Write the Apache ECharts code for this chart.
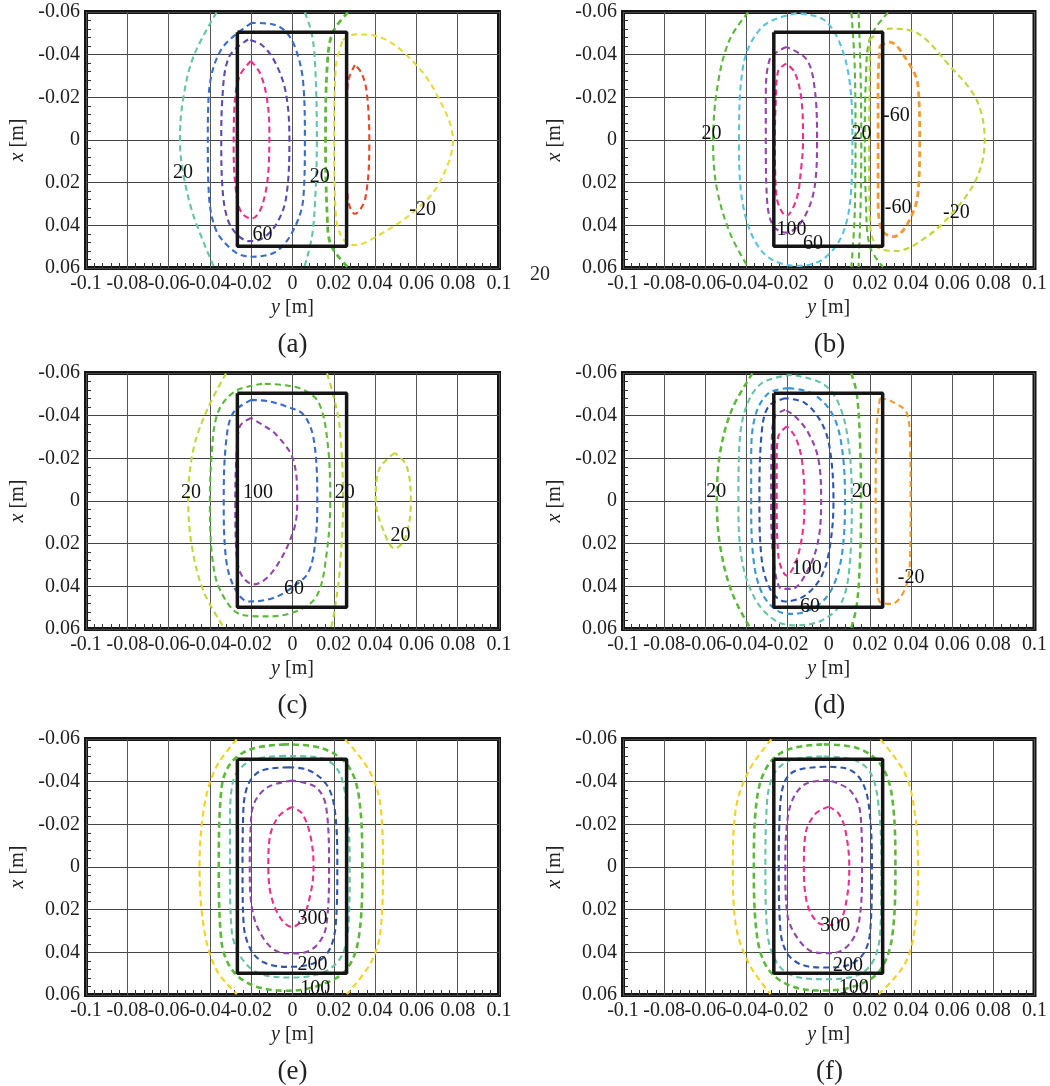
<!DOCTYPE html>
<html>
<head>
<meta charset="utf-8">
<script src="https://cdn.jsdelivr.net/npm/echarts@6.0.0/dist/echarts.min.js"></script>
<style>
html,body{margin:0;padding:0;background:#fff;}
#chart{width:1050px;height:1086px;}
</style>
</head>
<body>
<div id="chart"></div>
<script>
// ---------- tick labels / categories ----------
const xTickLabels = ['-0.1','-0.08','-0.06','-0.04','-0.02','0','0.02','0.04','0.06','0.08','0.1'];
const yTickLabels = ['-0.06','-0.04','-0.02','0','0.02','0.04','0.06'];
const panelLetters = ['(a)','(b)','(c)','(d)','(e)','(f)'];
// box outline [y, x]
const boxCorners = [[-0.0267,-0.0505],[0.0262,-0.0505],[0.0262,0.0498],[-0.0267,0.0498],[-0.0267,-0.0505]];

// ---------- panel (a) contours, points are [y, x] ----------
const a_c20L = [[-0.0368,-0.0598],[-0.048,-0.039],[-0.053,-0.019],[-0.0545,0],[-0.053,0.0152],[-0.048,0.0353],[-0.038,0.0596]];
const a_c20R = [[0.006,-0.0598],[0.0093,-0.05],[0.011,-0.0344],[0.0118,0],[0.011,0.0276],[0.0093,0.046],[0.0057,0.0596]];
const a_c40 = [[-0.0198,-0.0549],[-0.0348,-0.042],[-0.0407,-0.019],[-0.041,0],[-0.0407,0.0214],[-0.0373,0.0416],[-0.028,0.0524],[-0.0198,0.0547],[-0.0082,0.0524],[0,0.043],[0.0052,0.0276],[0.006,0],[0.0052,-0.0267],[0.0018,-0.042],[-0.0032,-0.0507],[-0.0098,-0.0543],[-0.0198,-0.0549]];
const a_c60 = [[-0.0215,-0.0471],[-0.0307,-0.039],[-0.034,-0.019],[-0.0345,0],[-0.034,0.0214],[-0.0315,0.0369],[-0.0265,0.0447],[-0.0207,0.0474],[-0.0148,0.0462],[-0.0082,0.04],[-0.0032,0.0276],[-0.0015,0],[-0.0032,-0.022],[-0.0082,-0.036],[-0.0148,-0.0445],[-0.0215,-0.0471]];
const a_c80 = [[-0.0202,-0.037],[-0.0257,-0.0298],[-0.0282,-0.0143],[-0.0285,0.0043],[-0.0273,0.0245],[-0.0248,0.0338],[-0.0198,0.0369],[-0.0148,0.031],[-0.0115,0.0121],[-0.0112,-0.0034],[-0.0123,-0.019],[-0.0157,-0.0313],[-0.0202,-0.037]];
const a_c0 = [[0.0268,-0.0598],[0.0193,-0.05],[0.0168,-0.0344],[0.016,0],[0.0168,0.0353],[0.0185,0.049],[0.0268,0.0596]];
const a_cm40 = [[0.0302,-0.0352],[0.0268,-0.0267],[0.026,0],[0.0268,0.0276],[0.0302,0.0346],[0.0352,0.0276],[0.0372,0],[0.036,-0.022],[0.0335,-0.0313],[0.0302,-0.0352]];
const a_cm20 = [[0.0243,-0.0468],[0.0302,-0.0495],[0.0418,-0.0484],[0.0585,-0.0367],[0.0703,-0.0205],[0.0777,0],[0.0703,0.0214],[0.0585,0.0338],[0.0418,0.0446],[0.0302,0.0493],[0.0243,0.0462],[0.021,0.0353],[0.0202,0],[0.021,-0.0344],[0.0243,-0.0468]];
const a_labelPos = [[-0.053,0.0152],[0.0132,0.0172],[-0.0145,0.0442],[0.063,0.0326]];
const a_labelText = ['20','20','60','-20'];

// ---------- panel (b) ----------
const b_c20L = [[-0.0392,-0.0598],[-0.0481,-0.0472],[-0.0538,-0.0269],[-0.0562,0],[-0.0546,0.0216],[-0.0481,0.0434],[-0.0392,0.0596]];
const b_c60 = [[-0.0157,-0.0594],[-0.0319,-0.0534],[-0.0416,-0.0347],[-0.0436,0],[-0.0416,0.0309],[-0.0319,0.0528],[-0.0157,0.059],[-0.0028,0.0559],[0.007,0.0434],[0.011,0.0216],[0.0115,0],[0.0102,-0.0269],[0.0053,-0.0456],[-0.0028,-0.0566],[-0.0157,-0.0594]];
const b_c100 = [[-0.0206,-0.0436],[-0.0287,-0.0378],[-0.0306,-0.0191],[-0.0306,0],[-0.03,0.0278],[-0.027,0.0403],[-0.0206,0.0434],[-0.0125,0.0372],[-0.0068,0.0216],[-0.0057,0],[-0.0068,-0.0238],[-0.0108,-0.0378],[-0.0206,-0.0436]];
const b_c140 = [[-0.0206,-0.0358],[-0.0246,-0.0323],[-0.0257,-0.0191],[-0.0262,0],[-0.0254,0.0263],[-0.0206,0.0356],[-0.0157,0.0278],[-0.0133,0.0122],[-0.0125,0],[-0.0133,-0.0191],[-0.0165,-0.0316],[-0.0206,-0.0358]];
const b_c20a = [[0.011,-0.0598],[0.0126,-0.035],[0.013,0],[0.0126,0.035],[0.011,0.0596]];
const b_c20b = [[0.0145,-0.0598],[0.0155,-0.03],[0.0158,0],[0.0155,0.03],[0.0145,0.0596]];
const b_c20c = [[0.0288,-0.0598],[0.0199,-0.0472],[0.018,-0.0269],[0.0175,0],[0.018,0.0269],[0.0199,0.0497],[0.0264,0.0596]];
const b_cm60 = [[0.0248,-0.0441],[0.0296,-0.0459],[0.0377,-0.0378],[0.0434,-0.0253],[0.0442,0],[0.0434,0.0247],[0.0377,0.0403],[0.0313,0.0453],[0.0256,0.0419],[0.024,0.0278],[0.024,0],[0.024,-0.0269],[0.0248,-0.0441]];
const b_cm20 = [[0.0199,-0.0472],[0.0296,-0.0522],[0.0426,-0.0503],[0.0588,-0.0347],[0.0717,-0.0191],[0.0758,0],[0.0717,0.0184],[0.0588,0.0356],[0.0458,0.0466],[0.0329,0.052],[0.0232,0.0497],[0.0199,0.0356],[0.0196,0],[0.0199,-0.0347],[0.0199,-0.0472]];
const b_labelPos = [[-0.057,-0.003],[0.0159,-0.0027],[0.0329,-0.0116],[0.0337,0.0317],[0.062,0.034],[-0.0181,0.0419],[-0.0076,0.0486]];
const b_labelText = ['20','20','-60','-60','-20','100','60'];

// ---------- panel (c) ----------
const c_c20L = [[-0.0322,-0.0598],[-0.0413,-0.0428],[-0.048,-0.0242],[-0.0505,-0.0009],[-0.0488,0.0208],[-0.043,0.0425],[-0.033,0.0596]];
const c_c20R = [[0.0167,-0.0598],[0.0195,-0.0505],[0.0228,-0.035],[0.0245,0],[0.0228,0.0332],[0.0203,0.0518],[0.0187,0.0596]];
const c_c20S = [[0.0495,-0.0226],[0.042,-0.0149],[0.0403,-0.0009],[0.0437,0.013],[0.0495,0.0223],[0.0545,0.0177],[0.0573,0.0006],[0.0553,-0.0164],[0.0495,-0.0226]];
const c_c40 = [[-0.0147,-0.0549],[-0.028,-0.0513],[-0.0363,-0.041],[-0.0393,-0.0195],[-0.04,0],[-0.0388,0.027],[-0.0347,0.0425],[-0.0247,0.0533],[-0.0113,0.0541],[0.0037,0.051],[0.012,0.044],[0.0162,0.027],[0.0183,0],[0.017,-0.0273],[0.0128,-0.0459],[0.0053,-0.0521],[-0.0047,-0.0544],[-0.0147,-0.0549]];
const c_c60 = [[-0.02,-0.0474],[-0.0288,-0.0412],[-0.0322,-0.0273],[-0.0333,0],[-0.0322,0.027],[-0.028,0.0409],[-0.0213,0.0471],[-0.0097,0.0456],[0.0003,0.0402],[0.0078,0.0332],[0.0112,0.0177],[0.012,0],[0.0103,-0.0288],[0.0053,-0.0405],[-0.003,-0.0443],[-0.0113,-0.0467],[-0.02,-0.0474]];
const c_c100 = [[-0.02,-0.0389],[-0.0255,-0.035],[-0.0272,-0.0195],[-0.0277,0],[-0.0272,0.0239],[-0.0247,0.0347],[-0.0188,0.0391],[-0.0097,0.0332],[0.0003,0.0146],[0.0023,0],[0.0003,-0.0195],[-0.008,-0.0312],[-0.0147,-0.0358],[-0.02,-0.0389]];
const c_labelPos = [[-0.0492,-0.004],[-0.0167,-0.004],[0.0253,-0.004],[0.0523,0.0161],[0.0007,0.0409]];
const c_labelText = ['20','100','20','20','60'];

// ---------- panel (d) ----------
const d_c20L = [[-0.0371,-0.0598],[-0.0471,-0.0428],[-0.0528,-0.0226],[-0.0544,-0.0008],[-0.0528,0.021],[-0.0471,0.0428],[-0.0382,0.0596]];
const d_c20R = [[0.0109,-0.0598],[0.0136,-0.0505],[0.0152,-0.0272],[0.0157,0],[0.0152,0.0272],[0.0136,0.049],[0.0109,0.0596]];
const d_c40 = [[-0.018,-0.0591],[-0.0326,-0.0552],[-0.0406,-0.0428],[-0.0436,-0.0226],[-0.0439,0],[-0.0423,0.0272],[-0.0358,0.0459],[-0.0261,0.056],[-0.0164,0.0583],[-0.0034,0.056],[0.0063,0.0474],[0.0104,0.0272],[0.0112,0],[0.0096,-0.0272],[0.0047,-0.0459],[-0.0034,-0.0552],[-0.018,-0.0591]];
const d_c60 = [[-0.0196,-0.0529],[-0.0293,-0.0505],[-0.0358,-0.0397],[-0.0377,-0.0194],[-0.0377,0],[-0.0366,0.0272],[-0.0326,0.0428],[-0.0253,0.0513],[-0.018,0.0529],[-0.0066,0.0498],[0.0015,0.0412],[0.0063,0.0257],[0.0079,0],[0.0063,-0.0257],[0.0015,-0.0412],[-0.0083,-0.0505],[-0.0196,-0.0529]];
const d_c80 = [[-0.0212,-0.0482],[-0.0293,-0.0443],[-0.0326,-0.0319],[-0.0337,0],[-0.0326,0.0272],[-0.0285,0.0412],[-0.0212,0.0471],[-0.0115,0.0443],[-0.0034,0.035],[0.0006,0.021],[0.0023,0],[0.0006,-0.0241],[-0.0034,-0.0365],[-0.0115,-0.0459],[-0.0212,-0.0482]];
const d_c100 = [[-0.0212,-0.0428],[-0.0261,-0.0397],[-0.0277,-0.0272],[-0.028,0],[-0.0269,0.0272],[-0.0228,0.0412],[-0.018,0.0412],[-0.0099,0.0319],[-0.005,0.0179],[-0.0037,0],[-0.005,-0.0194],[-0.0099,-0.0319],[-0.0164,-0.0397],[-0.0212,-0.0428]];
const d_c120 = [[-0.0204,-0.035],[-0.0245,-0.0303],[-0.0253,-0.0194],[-0.0253,0],[-0.0245,0.0257],[-0.0204,0.035],[-0.0155,0.0272],[-0.0123,0.0117],[-0.0118,0],[-0.0131,-0.0194],[-0.0164,-0.0303],[-0.0204,-0.035]];
const d_cm20 = [[0.0249,-0.0482],[0.0306,-0.0467],[0.0379,-0.0412],[0.0395,-0.0272],[0.0398,0],[0.0395,0.0272],[0.0371,0.0412],[0.0306,0.0482],[0.0249,0.0474],[0.0233,0.0334],[0.0228,0],[0.0233,-0.035],[0.0249,-0.0482]];
const d_labelPos = [[-0.0547,-0.0042],[0.016,-0.0042],[-0.0107,0.0316],[0.04,0.0358],[-0.0091,0.0495]];
const d_labelText = ['20','20','100','-20','60'];

// ---------- panel (e) ----------
const e_c50L = [[-0.027,-0.0598],[-0.037,-0.0467],[-0.0428,-0.0281],[-0.045,0],[-0.0428,0.0293],[-0.037,0.0479],[-0.027,0.0596]];
const e_c50R = [[0.0255,-0.0598],[0.0372,-0.0451],[0.0427,-0.0281],[0.0438,0],[0.0427,0.0293],[0.038,0.0448],[0.0263,0.0596]];
const e_c100 = [[-0.0037,-0.0575],[-0.0203,-0.0552],[-0.0303,-0.0482],[-0.0345,-0.0358],[-0.0357,0],[-0.0345,0.034],[-0.0295,0.0479],[-0.0187,0.0557],[-0.002,0.058],[0.0147,0.0549],[0.0263,0.0479],[0.0322,0.0324],[0.0338,0],[0.0322,-0.0327],[0.0263,-0.0482],[0.013,-0.056],[-0.0037,-0.0575]];
const e_c150 = [[-0.0037,-0.0521],[-0.0203,-0.0498],[-0.0287,-0.0405],[-0.0303,-0.0203],[-0.0303,0],[-0.0295,0.0293],[-0.0253,0.0417],[-0.017,0.0495],[-0.002,0.0518],[0.0147,0.0495],[0.0238,0.0417],[0.0272,0.0262],[0.0277,0],[0.0263,-0.0281],[0.0222,-0.0451],[0.013,-0.0513],[-0.0037,-0.0521]];
const e_c200 = [[-0.002,-0.0467],[-0.0153,-0.0451],[-0.022,-0.0374],[-0.024,-0.0203],[-0.0242,0],[-0.0237,0.0262],[-0.0203,0.0386],[-0.0137,0.0448],[-0.002,0.0468],[0.0113,0.0448],[0.018,0.0386],[0.021,0.0262],[0.0217,0],[0.0205,-0.0265],[0.0163,-0.0389],[0.0063,-0.0459],[-0.002,-0.0467]];
const e_c250 = [[-0.0003,-0.0405],[-0.012,-0.0374],[-0.0187,-0.0296],[-0.0203,-0.0172],[-0.0207,0],[-0.0195,0.02],[-0.0137,0.034],[-0.0053,0.0402],[0.003,0.0405],[0.0113,0.0371],[0.0163,0.0278],[0.0177,0],[0.0163,-0.0281],[0.0113,-0.0374],[-0.0003,-0.0405]];
const e_c300 = [[-0.0003,-0.0281],[-0.007,-0.0234],[-0.0112,-0.0126],[-0.0117,0],[-0.0103,0.0138],[-0.0053,0.0247],[-0.0003,0.0281],[0.0047,0.0247],[0.0088,0.0122],[0.0102,0],[0.0088,-0.0141],[0.0047,-0.025],[-0.0003,-0.0281]];
const e_labelPos = [[0.0097,0.0243],[0.0097,0.046],[0.011,0.0572]];
const e_labelText = ['300','200','100'];

// ---------- panel (f) ----------
const f_c50L = [[-0.0279,-0.0598],[-0.0389,-0.0451],[-0.0453,-0.0264],[-0.0466,0],[-0.0453,0.0264],[-0.0389,0.0451],[-0.0283,0.0596]];
const f_c50R = [[0.0251,-0.0598],[0.0372,-0.0435],[0.0421,-0.0233],[0.0434,0],[0.0421,0.0264],[0.0372,0.0451],[0.0243,0.0596]];
const f_c100 = [[-0.0032,-0.0575],[-0.0194,-0.0552],[-0.0292,-0.0482],[-0.0348,-0.0327],[-0.0364,0],[-0.0348,0.0327],[-0.0292,0.0482],[-0.0178,0.056],[-0.0016,0.0579],[0.0146,0.0552],[0.0251,0.0482],[0.0308,0.0327],[0.0324,0],[0.0308,-0.0327],[0.0251,-0.0482],[0.013,-0.056],[-0.0032,-0.0575]];
const f_c150 = [[-0.0032,-0.0518],[-0.0194,-0.0498],[-0.0275,-0.042],[-0.0304,-0.0233],[-0.0308,0],[-0.03,0.0295],[-0.0251,0.0451],[-0.0162,0.0513],[-0.0016,0.0526],[0.0146,0.0505],[0.0219,0.0435],[0.0251,0.0295],[0.0256,0],[0.0243,-0.028],[0.0202,-0.0443],[0.0113,-0.0505],[-0.0032,-0.0518]];
const f_c200 = [[-0.0016,-0.047],[-0.0162,-0.0451],[-0.0219,-0.0389],[-0.024,-0.0202],[-0.0243,0],[-0.0235,0.0295],[-0.0202,0.0404],[-0.013,0.0459],[-0.0016,0.0471],[0.0097,0.0459],[0.017,0.0404],[0.0202,0.0295],[0.021,0],[0.0194,-0.0295],[0.0154,-0.0412],[0.0081,-0.0463],[-0.0016,-0.047]];
const f_c250 = [[0,-0.0407],[-0.0113,-0.0389],[-0.0178,-0.0311],[-0.0206,-0.0171],[-0.0211,0],[-0.0202,0.0218],[-0.0146,0.0342],[-0.0065,0.0401],[0.0016,0.0404],[0.0097,0.0365],[0.0146,0.0264],[0.0162,0],[0.0154,-0.0249],[0.0105,-0.0358],[0,-0.0407]];
const f_c300 = [[0,-0.0283],[-0.0065,-0.0249],[-0.0113,-0.0156],[-0.0121,0],[-0.0105,0.0171],[-0.0057,0.0257],[0,0.0272],[0.0057,0.0249],[0.0089,0.014],[0.01,0],[0.0081,-0.0171],[0.0049,-0.0249],[0,-0.0283]];
const f_labelPos = [[0.0032,0.0275],[0.0094,0.0463],[0.0121,0.0568]];
const f_labelText = ['300','200','100'];

// ---------- styling (kept apart from data) ----------
const COL = {
  teal:'#66c4a2', blue:'#3b6cc4', indigo:'#5f48b0', magenta:'#e8318a', green:'#5cb83a',
  red:'#e8442b', yellow:'#e5da3c', ygreen:'#c2d638', cyan:'#58c2dc', purple:'#9146aa',
  orange:'#f29a2c', gold:'#f3d21f', lblue:'#3a95d4', dblue:'#2f55a8'
};
const panels = [
  {curves:[[a_c20L,'teal'],[a_c20R,'teal'],[a_c40,'blue'],[a_c60,'indigo'],[a_c80,'magenta'],[a_c0,'green',2.8],[a_cm40,'red'],[a_cm20,'yellow']], pos:a_labelPos, txt:a_labelText},
  {curves:[[b_c20L,'green'],[b_c60,'cyan'],[b_c100,'purple'],[b_c140,'magenta'],[b_c20a,'green'],[b_c20b,'green'],[b_c20c,'green'],[b_cm60,'orange',2.8],[b_cm20,'ygreen']], pos:b_labelPos, txt:b_labelText},
  {curves:[[c_c20L,'ygreen'],[c_c20R,'ygreen'],[c_c20S,'ygreen'],[c_c40,'green'],[c_c60,'blue'],[c_c100,'purple']], pos:c_labelPos, txt:c_labelText},
  {curves:[[d_c20L,'green',2.5],[d_c20R,'green',2.5],[d_c40,'teal'],[d_c60,'lblue'],[d_c80,'dblue'],[d_c100,'purple'],[d_c120,'magenta'],[d_cm20,'orange']], pos:d_labelPos, txt:d_labelText},
  {curves:[[e_c50L,'gold'],[e_c50R,'gold'],[e_c100,'green',2.6],[e_c150,'teal'],[e_c200,'dblue'],[e_c250,'purple'],[e_c300,'magenta']], pos:e_labelPos, txt:e_labelText},
  {curves:[[f_c50L,'gold'],[f_c50R,'gold'],[f_c100,'green',2.6],[f_c150,'teal'],[f_c200,'dblue'],[f_c250,'purple'],[f_c300,'magenta']], pos:f_labelPos, txt:f_labelText}
];

const FONT = '"Liberation Serif", serif';
const gridLefts = [86, 623];
const gridTops = [12, 373, 739];
const GW = 413, GH = 256;

const grids = [], xAxes = [], yAxes = [], series = [], graphics = [];
panels.forEach((p, i) => {
  const left = gridLefts[i % 2], top = gridTops[Math.floor(i / 2)];
  grids.push({left:left, top:top, width:GW, height:GH, show:true, borderColor:'#151515', borderWidth:4, backgroundColor:'transparent', containLabel:false});
  xAxes.push({
    gridIndex:i, type:'value', min:-0.1, max:0.1, interval:0.02,
    name:'{i|y} [m]', nameLocation:'middle', nameGap:30,
    nameTextStyle:{fontFamily:FONT, fontSize:20, color:'#222', rich:{i:{fontFamily:FONT, fontSize:20, fontStyle:'italic', color:'#222'}}},
    axisLine:{show:false, onZero:false}, axisTick:{show:false, inside:true},
    minorTick:{show:true, splitNumber:5, length:5, lineStyle:{color:'#333', width:1}},
    splitLine:{show:true, lineStyle:{color:'#555', width:1}},
    axisLabel:{fontFamily:FONT, fontSize:20, color:'#1e1e1e', margin:6, showMinLabel:true, showMaxLabel:true,
      formatter:v => xTickLabels[Math.round((v + 0.1) / 0.02)]}
  });
  yAxes.push({
    gridIndex:i, type:'value', inverse:true, min:-0.06, max:0.06, interval:0.02,
    name:'{i|x} [m]', nameLocation:'middle', nameGap:58,
    nameTextStyle:{fontFamily:FONT, fontSize:20, color:'#222', rich:{i:{fontFamily:FONT, fontSize:20, fontStyle:'italic', color:'#222'}}},
    axisLine:{show:false, onZero:false}, axisTick:{show:false, inside:true},
    minorTick:{show:true, splitNumber:5, length:5, lineStyle:{color:'#333', width:1}},
    splitLine:{show:true, lineStyle:{color:'#444', width:1}},
    axisLabel:{fontFamily:FONT, fontSize:20, color:'#1e1e1e', margin:6, showMinLabel:true, showMaxLabel:true,
      formatter:v => yTickLabels[Math.round((v + 0.06) / 0.02)]}
  });
  p.curves.forEach(c => {
    series.push({
      type:'line', xAxisIndex:i, yAxisIndex:i, data:c[0], smooth:0.35, symbol:'none', showSymbol:false,
      silent:true, animation:false, z:3,
      lineStyle:{color:COL[c[1]], width:c[2] || 2.1, type:[6,4]}
    });
  });
  series.push({
    type:'line', xAxisIndex:i, yAxisIndex:i, data:boxCorners, smooth:false, symbol:'none', showSymbol:false,
    silent:true, animation:false, z:5, lineStyle:{color:'#151515', width:3.5, type:'solid'}
  });
  series.push({
    type:'scatter', xAxisIndex:i, yAxisIndex:i, symbolSize:1, silent:true, animation:false, z:6,
    itemStyle:{color:'rgba(255,255,255,0)'},
    data:p.pos.map((q, k) => ({value:q, name:p.txt[k]})),
    label:{show:true, position:'inside', formatter:'{b}', fontFamily:FONT, fontSize:20, color:'#111', textBorderWidth:0, opacity:1}
  });
  graphics.push({type:'text', x:left + GW / 2, y:top + 333, silent:true,
    style:{text:panelLetters[i], font:'27px ' + FONT, fill:'#222', align:'center', verticalAlign:'middle'}});
});
// stray contour label lying outside panel (a)
graphics.push({type:'text', x:540, y:275, silent:true,
  style:{text:'20', font:'20px ' + FONT, fill:'#222', align:'center', verticalAlign:'middle'}});

const chart = echarts.init(document.getElementById('chart'), null, {renderer:'canvas'});
chart.setOption({
  animation:false,
  backgroundColor:'#fff',
  grid:grids, xAxis:xAxes, yAxis:yAxes, series:series, graphic:graphics
});
</script>
</body>
</html>
